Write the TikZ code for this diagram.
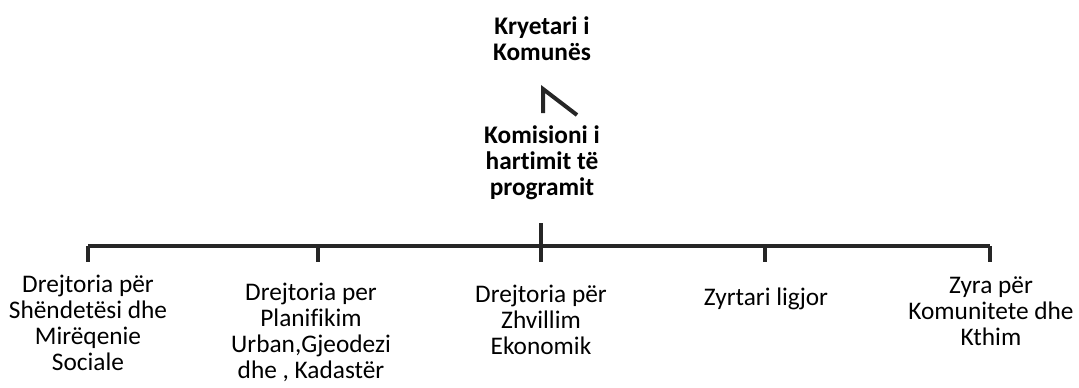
\documentclass[tikz,border=0pt]{standalone}
\usepackage{fontspec}
\setmainfont{Carlito}[RawFeature={-liga}]
\usetikzlibrary{positioning}
\begin{document}
\begin{tikzpicture}[x=0.75pt,y=-0.75pt,
    unit/.style={align=center,inner sep=0pt,font=\fontsize{19}{19.5}\selectfont},
    head/.style={unit,font=\fontsize{19}{19.5}\selectfont\bfseries},
    wire/.style={line width=2.4pt,color=black!85}]
  \useasboundingbox (0,0) rectangle (1079,387);
  \draw
    (542,39) node[head] (kryetari){Kryetari i\\Komunës}
    (542,163) node[head] (komisioni){Komisioni i\\hartimit të\\programit}
    (88,323) node[unit] (shendetesi){Drejtoria për\\Shëndetësi dhe\\Mirëqenie\\Sociale}
    (311,332) node[unit] (planifikim){Drejtoria per\\Planifikim\\Urban,Gjeodezi\\dhe , Kadastër}
    (541,320) node[unit] (zhvillim){Drejtoria për\\Zhvillim\\Ekonomik}
    (766,299) node[unit] (ligjor){Zyrtari ligjor}
    (991,311) node[unit] (komunitete){Zyra për\\Komunitete dhe\\Kthim};
  \coordinate (arrB) at (543,113);
  \coordinate (arrT) at (543,89);
  \coordinate (arrR) at (577,115);
  \coordinate (stem) at (541,223);
  \coordinate (t1) at (88,246);
  \coordinate (t2) at (318,246);
  \coordinate (t3) at (541,246);
  \coordinate (t4) at (765,246);
  \coordinate (t5) at (990,246);
  \begin{scope}[wire]
    \draw[line width=3pt,line join=miter] (arrB) to (arrT) to (arrR);
    \draw (stem) to ++(0,39);
    \draw (t1) to (t5);
    \foreach \i in {1,2,4,5}
      \draw (t\i) to ++(0,16);
  \end{scope}
\end{tikzpicture}
\end{document}
